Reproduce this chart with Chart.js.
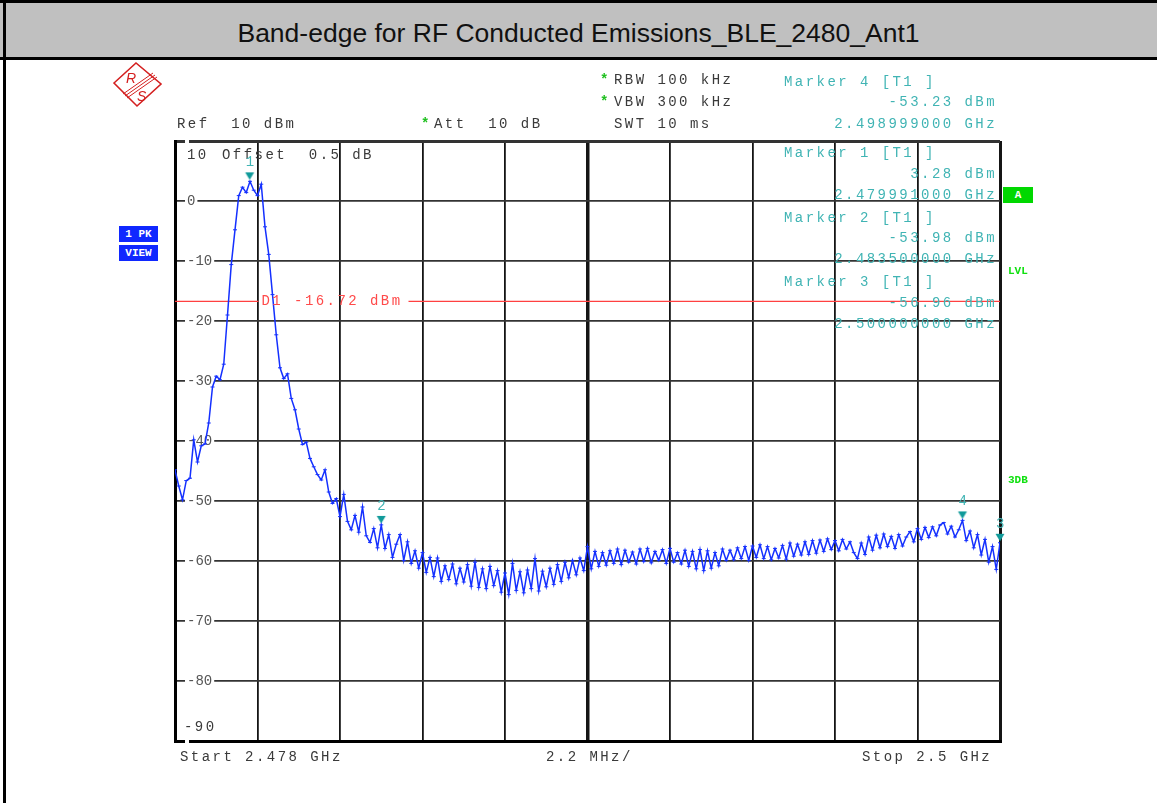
<!DOCTYPE html>
<html>
<head>
<meta charset="utf-8">
<title>Band-edge for RF Conducted Emissions_BLE_2480_Ant1</title>
<script src="https://cdn.jsdelivr.net/npm/chart.js@4.4.1/dist/chart.umd.min.js"></script>
<style>
    html, body { margin: 0; padding: 0; background: #fff; }
    body { width: 1157px; height: 803px; position: relative; overflow: hidden; font-family: 'Liberation Mono', monospace; }
    #plot { position: absolute; left: 0; top: 0; z-index: 1; }
    #titlebar { position: absolute; left: 0; top: 0; width: 1157px; height: 60px; box-sizing: border-box; background: #c0c0c0;
        border-top: 3px solid #000; border-bottom: 3px solid #000; text-align: center; z-index: 3; overflow: hidden;
        font-family: 'Liberation Sans', Arial, sans-serif; font-size: 26.5px; line-height: 60px; color: #111; }
    #leftline { position: absolute; left: 3px; top: 0; width: 3px; height: 803px; background: #000; z-index: 4; }
    .t { position: absolute; font-size: 14px; line-height: 14px; letter-spacing: 2.45px; white-space: pre; color: #3a3a3a; z-index: 2; }
    .mk { color: #40b4b4; }
    .r { text-align: right; }
    .star { color: #20c020; font-weight: bold; }
    .red { color: #ff4a4a; }
    .badge { position: absolute; background: #1028ff; color: #fff; font-weight: bold; font-size: 11px; line-height: 16px;
        text-align: center; font-family: 'Liberation Mono', monospace; z-index: 2; }
    .green { position: absolute; color: #10e010; font-weight: bold; font-size: 11px; line-height: 12px; font-family: 'Liberation Mono', monospace; z-index: 2; }
    #logo { position: absolute; left: 108px; top: 60px; z-index: 2; }
</style>
</head>
<body>
<div id="titlebar">Band-edge for RF Conducted Emissions_BLE_2480_Ant1</div>
<div id="leftline"></div>

<svg id="logo" width="58" height="50" viewBox="0 0 58 50">
    <polygon points="6,23 28,3 53,24 29,46" fill="none" stroke="#d42020" stroke-width="1.6"/>
    <line x1="15" y1="34" x2="45" y2="13" stroke="#d42020" stroke-width="1"/>
    <line x1="17" y1="36" x2="47" y2="15" stroke="#d42020" stroke-width="1"/>
    <line x1="19" y1="38" x2="49" y2="17" stroke="#d42020" stroke-width="1"/>
    <text x="18" y="23" fill="#d42020" font-family="Liberation Sans" font-size="14" font-style="italic">R</text>
    <text x="29" y="41" fill="#d42020" font-family="Liberation Sans" font-size="14" font-style="italic">S</text>
</svg>

<div class="t" style="left:177px; top:117px;">Ref  10 dBm</div>
<div class="t star" style="left:421px; top:117px;">*</div>
<div class="t" style="left:434px; top:117px;">Att  10 dB</div>
<div class="t star" style="left:600px; top:73px;">*</div>
<div class="t" style="left:614px; top:73px;">RBW 100 kHz</div>
<div class="t star" style="left:600px; top:95px;">*</div>
<div class="t" style="left:614px; top:95px;">VBW 300 kHz</div>
<div class="t" style="left:614px; top:117px;">SWT 10 ms</div>

<div class="t mk" style="left:784px; top:75px;">Marker 4 [T1 ]</div>
<div class="t mk r" style="right:160px; top:95px;">-53.23 dBm</div>
<div class="t mk r" style="right:160px; top:117px;">2.498999000 GHz</div>
<div class="t mk" style="left:784px; top:146px;">Marker 1 [T1 ]</div>
<div class="t mk r" style="right:160px; top:167px;">3.28 dBm</div>
<div class="t mk r" style="right:160px; top:188px;">2.479991000 GHz</div>
<div class="t mk" style="left:784px; top:211px;">Marker 2 [T1 ]</div>
<div class="t mk r" style="right:160px; top:231px;">-53.98 dBm</div>
<div class="t mk r" style="right:160px; top:252px;">2.483500000 GHz</div>
<div class="t mk" style="left:784px; top:275px;">Marker 3 [T1 ]</div>
<div class="t mk r" style="right:160px; top:296px;">-56.96 dBm</div>
<div class="t mk r" style="right:160px; top:317px;">2.500000000 GHz</div>

<div class="t" style="left:222px; top:148px;">Offset  0.5 dB</div>
<div class="t" style="left:187px; top:148px;">10</div>
<div class="t" style="left:184px; top:720px;">-90</div>
<div class="t red" id="d1Label">D1 -16.72 dBm</div>

<div class="t" style="left:180px; top:750px;">Start 2.478 GHz</div>
<div class="t" style="left:546px; top:750px;">2.2 MHz/</div>
<div class="t" style="left:862px; top:750px;">Stop 2.5 GHz</div>

<div class="badge" style="left:119px; top:226px; width:39px; height:16px;">1 PK</div>
<div class="badge" style="left:119px; top:245px; width:39px; height:16px;">VIEW</div>
<div class="badge" style="left:1003px; top:187px; width:30px; height:16px; background:#00d800;">A</div>
<div class="green" style="left:1008px; top:265px;">LVL</div>
<div class="green" style="left:1008px; top:474px;">3DB</div>

<div id="markerLabels"></div>

<canvas id="plot" width="1157" height="803"></canvas>

<script>
    const START_GHZ = 2.478;
    const STOP_GHZ = 2.5;
    const X_GRID = [2.478, 2.4802, 2.4824, 2.4846, 2.4868, 2.489, 2.4912, 2.4934, 2.4956, 2.4978, 2.5];
    const Y_TICKS = [10, 0, -10, -20, -30, -40, -50, -60, -70, -80, -90];
    const DISPLAY_LINE = -16.72;

    // peak trace, one reading every 0.1 MHz from 2.478 to 2.5 GHz
    const TRACE_DBM = [
        -44.8, -47.5, -49.8, -46.6, -46.2, -39.8, -43.5, -40.8, -40.5, -37.0,
        -31.0, -29.2, -29.8, -27.2, -19.0, -10.6, -4.8, 0.9, 2.3, 1.4,
        3.28, 1.8, 0.9, 2.8, -4.3, -8.9, -15.6, -22.3, -27.8, -29.6,
        -28.8, -32.9, -34.8, -38.0, -40.6, -40.2, -42.9, -44.3, -45.6, -46.5,
        -44.8, -48.5, -50.4, -49.6, -52.6, -48.9, -53.4, -54.8, -52.4, -55.2,
        -51.0, -55.8, -56.9, -54.6, -57.8, -53.98, -57.9, -55.6, -59.4, -57.2,
        -55.6, -59.9, -56.8, -60.4, -58.3, -61.2, -58.6, -61.9, -59.4, -62.6,
        -59.5, -63.4, -60.8, -63.1, -60.5, -63.8, -61.2, -63.5, -60.6, -64.2,
        -60.2, -64.4, -61.3, -64.6, -60.9, -64.1, -61.6, -65.2, -62.0, -65.6,
        -60.4, -64.9, -61.8, -65.3, -61.5, -64.6, -59.6, -65.0, -61.7, -64.3,
        -61.2, -63.9, -60.6, -63.4, -60.2, -62.8, -59.9, -62.3, -59.5, -61.6,
        -57.6, -61.3, -58.4, -60.9, -58.6, -60.7, -58.3, -60.4, -58.0, -60.6,
        -58.2, -60.2, -58.5, -60.5, -58.0, -60.1, -57.9, -60.3, -58.4, -59.9,
        -58.1, -60.4, -57.9, -60.2, -58.6, -60.5, -58.2, -60.9, -58.4, -61.3,
        -58.1, -61.6, -58.3, -61.2, -58.6, -60.8, -58.0, -59.9, -58.2, -59.8,
        -57.8, -59.6, -57.6, -59.9, -57.5, -59.4, -57.3, -59.6, -57.6, -59.8,
        -57.9, -59.5, -57.4, -59.7, -57.0, -59.2, -57.2, -59.0, -56.8, -58.9,
        -56.6, -58.7, -56.5, -58.4, -56.3, -58.1, -56.6, -58.3, -56.4, -58.0,
        -56.8, -58.6, -59.6, -57.0, -58.9, -56.0, -58.2, -55.7, -57.8, -55.5,
        -57.6, -55.9, -57.9, -55.6, -57.5, -56.0, -55.1, -56.8, -54.6, -56.4,
        -54.4, -56.1, -54.3, -55.8, -54.0, -53.6, -55.5, -54.2, -56.0, -54.8,
        -53.23, -56.6, -55.0, -57.8, -55.6, -59.0, -56.4, -60.2, -57.6, -61.4, -56.96
    ];

    const MARKER_NAMES = ['1', '2', '3', '4'];
    const MARKER_FREQS = [2.479991, 2.4835, 2.5, 2.498999];
    const MARKER_LEVELS = [3.28, -53.98, -56.96, -53.23];

    const sweepStep = (STOP_GHZ - START_GHZ) / (TRACE_DBM.length - 1);
    const tracePoints = TRACE_DBM.map((v, i) => ({ x: START_GHZ + i * sweepStep, y: v }));
    const markerPoints = MARKER_FREQS.map((f, i) => ({ x: f, y: MARKER_LEVELS[i] }));

    // marker symbol: downward triangle sitting just above the point
    function makeMarkerGlyph() {
        const c = document.createElement('canvas');
        c.width = 12;
        c.height = 24;
        const g = c.getContext('2d');
        g.fillStyle = '#109a9a';
        g.beginPath();
        g.moveTo(1.5, 3);
        g.lineTo(10.5, 3);
        g.lineTo(6, 10.5);
        g.closePath();
        g.fill();
        return c;
    }

    const markerLabelBox = document.getElementById('markerLabels');
    const markerDivs = MARKER_NAMES.map(name => {
        const d = document.createElement('div');
        d.className = 't mk';
        d.textContent = name;
        markerLabelBox.appendChild(d);
        return d;
    });

    function d1Gap(chart) {
        const left = chart.scales.x.getPixelForValue(X_GRID[1]) + 4;
        return { left: left, right: left + 150, y: chart.scales.y.getPixelForValue(DISPLAY_LINE) };
    }

    const overlayPlugin = {
        id: 'overlay',
        beforeDatasetDraw(chart, args) {
            if (args.index !== 2) return;
            const gap = d1Gap(chart);
            const a = chart.chartArea;
            const ctx = chart.ctx;
            ctx.save();
            ctx.beginPath();
            ctx.rect(a.left, a.top, a.right - a.left, a.bottom - a.top);
            ctx.rect(gap.left - 3, gap.y - 5, gap.right - gap.left, 10);
            ctx.clip('evenodd');
        },
        afterDatasetDraw(chart, args) {
            if (args.index !== 2) return;
            chart.ctx.restore();
        },
        afterDraw(chart) {
            const xs = chart.scales.x;
            const ys = chart.scales.y;
            const gap = d1Gap(chart);
            const d1 = document.getElementById('d1Label');
            d1.style.left = gap.left + 'px';
            d1.style.top = (gap.y - 7) + 'px';
            markerDivs.forEach((d, i) => {
                const px = xs.getPixelForValue(MARKER_FREQS[i]);
                const py = ys.getPixelForValue(MARKER_LEVELS[i]);
                d.style.left = (px - 4) + 'px';
                d.style.top = (py - 26) + 'px';
            });
        }
    };

    new Chart(document.getElementById('plot'), {
        type: 'line',
        data: {
            datasets: [{
                label: 'Markers',
                data: markerPoints,
                showLine: false,
                pointStyle: makeMarkerGlyph(),
                pointRadius: 6,
                clip: false
            }, {
                label: 'Trace 1',
                data: tracePoints,
                borderColor: '#1430ff',
                borderWidth: 1.5,
                pointStyle: 'line',
                pointRadius: 2,
                pointBorderColor: '#1430ff',
                pointBorderWidth: 1,
                tension: 0
            }, {
                label: 'D1',
                data: [{ x: START_GHZ, y: DISPLAY_LINE }, { x: STOP_GHZ, y: DISPLAY_LINE }],
                borderColor: '#ff4040',
                borderWidth: 1.2,
                pointRadius: 0
            }]
        },
        options: {
            responsive: false,
            animation: false,
            devicePixelRatio: 1,
            events: [],
            layout: { padding: { left: 151, top: 141, right: 157, bottom: 62 } },
            plugins: { legend: { display: false }, tooltip: { enabled: false } },
            scales: {
                x: {
                    type: 'linear',
                    min: START_GHZ,
                    max: STOP_GHZ,
                    afterBuildTicks: scale => { scale.ticks = X_GRID.map(v => ({ value: v })); },
                    ticks: { display: false },
                    grid: {
                        drawTicks: false,
                        color: '#151515',
                        lineWidth: ctx => (ctx.index === 5 ? 3.5 : (ctx.index === 0 || ctx.index === 10 ? 3 : 1.8))
                    },
                    border: { display: true, color: '#000', width: 3 }
                },
                y: {
                    min: -90,
                    max: 10,
                    afterBuildTicks: scale => { scale.ticks = Y_TICKS.map(v => ({ value: v })); },
                    ticks: {
                        mirror: true,
                        padding: 12,
                        color: '#555',
                        font: { family: 'Liberation Mono', size: 14 },
                        callback: v => (v === 10 || v === -90 ? '' : String(v)),
                        showLabelBackdrop: true,
                        backdropColor: '#fff',
                        backdropPadding: { left: 2, right: 2, top: 0, bottom: 0 }
                    },
                    grid: {
                        drawTicks: false,
                        color: '#333',
                        lineWidth: ctx => (ctx.index === 0 || ctx.index === 10 ? 3 : 1.8)
                    },
                    border: { display: true, color: '#000', width: 3 }
                }
            }
        },
        plugins: [overlayPlugin]
    });
</script>
</body>
</html>
